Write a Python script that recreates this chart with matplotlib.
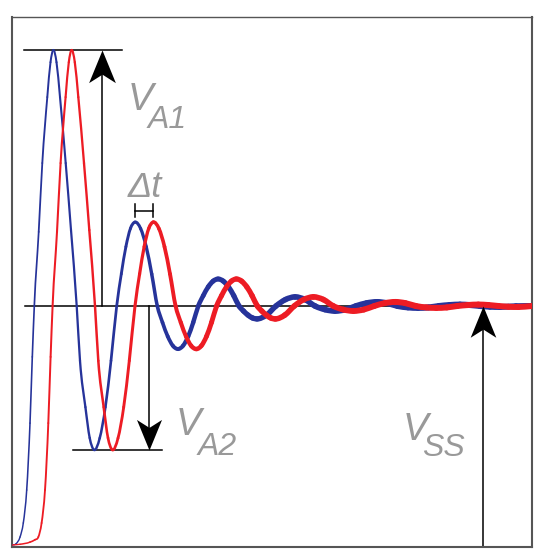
import numpy as np
import matplotlib
matplotlib.use("Agg")
import matplotlib.pyplot as plt
from matplotlib.path import Path
from matplotlib.patches import PathPatch

# ---------------- data (time in arbitrary units, voltage normalised to V_SS = 1) ----------------
blue_t = [0.00, 0.40, 0.80, 1.13, 1.47, 1.80, 2.03, 2.23, 2.67, 3.03, 3.53, 3.85, 4.13,
          4.45, 4.80, 5.37, 5.90, 6.47, 6.80, 7.34, 7.77, 8.20, 8.77, 9.34, 9.90, 10.47,
          10.93, 11.39, 11.84, 12.30, 12.86, 13.42, 13.97, 14.53, 15.05, 15.57, 16.08, 16.60,
          17.11, 17.62, 18.12, 18.63, 19.12, 19.62, 20.11, 20.60, 21.13, 21.65, 22.18, 22.70,
          23.15, 23.60, 24.05, 24.50, 25.45, 26.40, 27.35, 28.30, 29.30, 30.30, 31.30, 32.30,
          33.35, 34.40, 35.45, 36.50, 37.50, 38.55, 39.60, 40.60, 41.65, 42.70, 43.75, 44.80,
          45.80, 46.80, 47.80, 48.80, 50.40, 52.00]
blue_v = [0.000, 0.005, 0.033, 0.092, 0.230, 0.510, 0.787, 1.000, 1.310, 1.598, 1.874, 2.020, 2.071,
          2.020, 1.874, 1.598, 1.318, 1.000, 0.771, 0.577, 0.448, 0.398, 0.447, 0.577, 0.771, 1.000,
          1.134, 1.248, 1.324, 1.351, 1.324, 1.248, 1.134, 1.000, 0.931, 0.873, 0.834, 0.820,
          0.834, 0.873, 0.931, 1.000, 1.043, 1.080, 1.104, 1.113, 1.104, 1.080, 1.043, 1.000,
          0.979, 0.962, 0.950, 0.946, 0.962, 1.000, 1.027, 1.038, 1.027, 1.000, 0.985, 0.979,
          0.985, 1.000, 1.012, 1.017, 1.012, 1.000, 0.994, 0.992, 0.994, 1.000, 1.004, 1.006,
          1.004, 1.000, 0.997, 0.996, 0.999, 1.000]

red_t = [0.00, 0.80, 1.80, 2.30, 2.63, 2.96, 3.30, 3.63, 3.86, 4.06, 4.50, 4.86, 5.36, 5.68, 5.96,
         6.28, 6.63, 7.20, 7.73, 8.30, 8.63, 9.17, 9.60, 10.03, 10.60, 11.17, 11.73, 12.30,
         12.76, 13.22, 13.67, 14.13, 14.69, 15.25, 15.80, 16.36, 16.88, 17.40, 17.91, 18.43,
         18.94, 19.45, 19.95, 20.46, 20.95, 21.45, 21.94, 22.43, 22.96, 23.48, 24.01, 24.53,
         24.98, 25.43, 25.88, 26.33, 27.28, 28.23, 29.18, 30.13, 31.13, 32.13, 33.13, 34.13,
         35.18, 36.23, 37.28, 38.33, 39.33, 40.38, 41.43, 42.43, 43.48, 44.53, 45.58, 46.63,
         47.63, 48.63, 49.63, 50.63, 52.00]
red_v = [0.000, 0.003, 0.012, 0.022, 0.033, 0.092, 0.230, 0.510, 0.787, 1.000, 1.310, 1.598, 1.874, 2.020, 2.071,
         2.020, 1.874, 1.598, 1.318, 1.000, 0.771, 0.577, 0.448, 0.398, 0.447, 0.577, 0.771, 1.000,
         1.134, 1.248, 1.324, 1.351, 1.324, 1.248, 1.134, 1.000, 0.931, 0.873, 0.834, 0.820,
         0.834, 0.873, 0.931, 1.000, 1.043, 1.080, 1.104, 1.113, 1.104, 1.080, 1.043, 1.000,
         0.979, 0.962, 0.950, 0.946, 0.962, 1.000, 1.027, 1.038, 1.027, 1.000, 0.985, 0.979,
         0.985, 1.000, 1.012, 1.017, 1.012, 1.000, 0.994, 0.992, 0.994, 1.000, 1.004, 1.006,
         1.004, 1.000, 0.997, 0.996, 1.000]

v_ss = 1.0
labels = {"va1": ("V", "A1"), "va2": ("V", "A2"), "vss": ("V", "SS"), "dt": "Δt"}

# ---------------- style ----------------
BLUE = "#26339a"
RED = "#ed1c24"
GRAY = "#999999"
W_T = [0, 4, 8, 12, 16.6, 20.6, 26, 40, 52]          # line-width profile (style)
W_PX = [1.3, 2.0, 2.4, 3.0, 4.0, 5.0, 5.5, 6.0, 6.0]
FONT = "Liberation Sans"

fig = plt.figure(figsize=(5.5, 5.6), dpi=100)
ax = fig.add_axes([12 / 550, 13 / 560, 520 / 550, 530 / 560])
ax.set_xlim(0, 52)
ax.set_ylim(-0.0084, 2.2092)
ax.set_xticks([])
ax.set_yticks([])
for side, sp in ax.spines.items():
    sp.set_color("#555555")
    sp.set_linewidth(1.0 if side == "top" else 1.5)


def draw_curve(t, v, color, z):
    t = np.asarray(t, float)
    v = np.asarray(v, float)
    m = np.gradient(v, t)
    for i in range(len(t) - 1):
        h = t[i + 1] - t[i]
        verts = [(t[i], v[i]), (t[i] + h / 3, v[i] + m[i] * h / 3),
                 (t[i + 1] - h / 3, v[i + 1] - m[i + 1] * h / 3), (t[i + 1], v[i + 1])]
        p = Path(verts, [Path.MOVETO, Path.CURVE4, Path.CURVE4, Path.CURVE4])
        lw = np.interp(0.5 * (t[i] + t[i + 1]), W_T, W_PX) * 0.72
        ax.add_patch(PathPatch(p, fill=False, edgecolor=color, lw=lw,
                               capstyle="round", joinstyle="round", zorder=z))


# arrow-head markers (notched)
up_head = Path([(0, 0), (0.41, -1), (0, -0.74), (-0.41, -1), (0, 0)],
               [Path.MOVETO, Path.LINETO, Path.LINETO, Path.LINETO, Path.CLOSEPOLY])
down_head = Path([(0, 0), (0.41, 1), (0, 0.74), (-0.41, 1), (0, 0)],
                 [Path.MOVETO, Path.LINETO, Path.LINETO, Path.LINETO, Path.CLOSEPOLY])

peak1 = max(blue_v)
i_pk = int(np.argmax(blue_v))
trough1 = min(blue_v[i_pk:])
LW = 1.1
# steady-state reference line
ax.plot([1.3, 52], [v_ss, v_ss], color="black", lw=LW, zorder=1)
# V_A1
ax.plot([1.2, 11.0], [peak1, peak1], color="black", lw=LW, zorder=1)
ax.plot([9.0, 9.0], [v_ss, peak1 - 0.05], color="black", lw=LW, zorder=1)
ax.plot([9.0], [peak1], marker=up_head, ms=47, color="black", mew=0, zorder=5)
# V_A2
ax.plot([6.1, 15.0], [trough1, trough1], color="black", lw=LW, zorder=1)
ax.plot([13.7, 13.7], [v_ss, trough1 + 0.05], color="black", lw=LW, zorder=1)
ax.plot([13.7], [trough1], marker=down_head, ms=44, color="black", mew=0, zorder=5)
# V_SS
ax.plot([47.1, 47.1], [-0.01, v_ss - 0.05], color="black", lw=LW, zorder=1)
ax.plot([47.1], [v_ss], marker=up_head, ms=45, color="black", mew=0, zorder=5)

draw_curve(blue_t, blue_v, BLUE, 3)
draw_curve(red_t, red_v, RED, 4)

# delta-t bracket between second peaks
i2b = int(np.argmax(blue_v[i_pk + 5:])) + i_pk + 5
i_rpk = int(np.argmax(red_v))
i2r = int(np.argmax(red_v[i_rpk + 5:])) + i_rpk + 5
tb, tr = blue_t[i2b], red_t[i2r]
yb = 1.399
ax.plot([tb, tr], [yb, yb], color="black", lw=1.1, zorder=5)
for xx in (tb, tr):
    ax.plot([xx, xx], [yb - 0.027, yb + 0.027], color="black", lw=1.1, zorder=5)


def ftxt(x, y, s, size):
    fig.text(x / 550, 1 - y / 560, s, fontsize=size, color=GRAY, family=FONT,
             style="italic", ha="left", va="baseline")


ftxt(128, 109.5, labels["va1"][0], 27.5)
ftxt(148, 128.5, labels["va1"][1], 23)
ftxt(176, 435, labels["va2"][0], 27.5)
ftxt(198, 455, labels["va2"][1], 23)
ftxt(403, 440, labels["vss"][0], 27.5)
ftxt(422, 456.5, labels["vss"][1], 23)
ftxt(128, 197, labels["dt"], 26)

fig.savefig("out.png", dpi=100)
